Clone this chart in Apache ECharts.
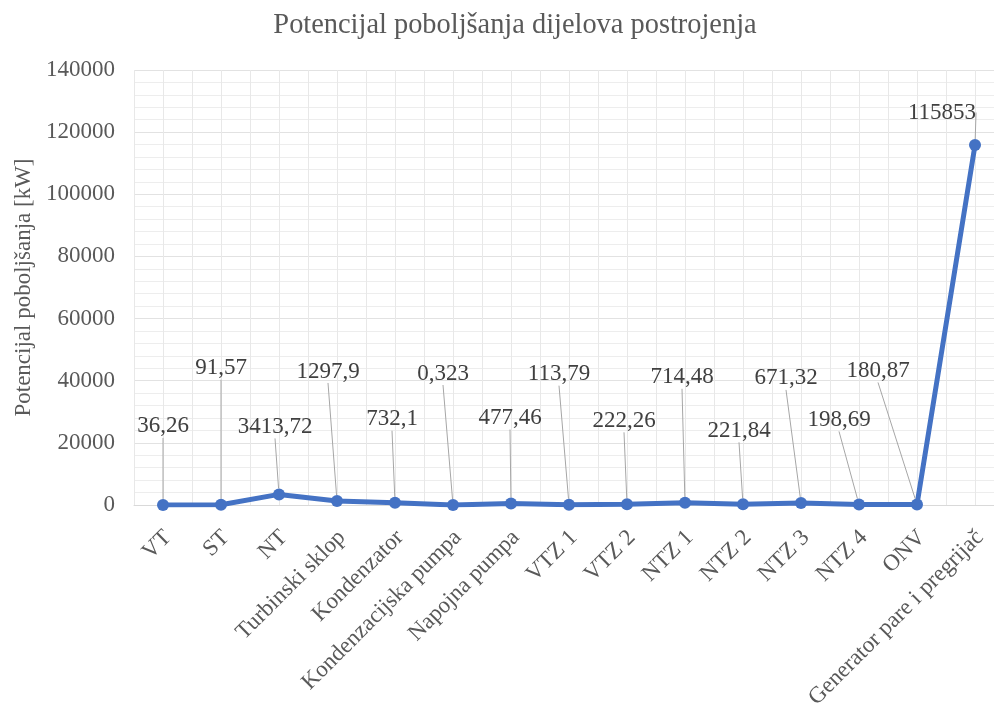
<!DOCTYPE html>
<html>
<head>
<meta charset="utf-8">
<script src="https://cdn.jsdelivr.net/npm/echarts@6/dist/echarts.min.js"></script>
<style>html,body{margin:0;padding:0;background:#fff;overflow:hidden}#c{width:1030px;height:709px}</style>
</head>
<body>
<div id="c"></div>
<script>
const categories = ['VT','ST','NT','Turbinski sklop','Kondenzator','Kondenzacijska pumpa','Napojna pumpa','VTZ 1','VTZ 2','NTZ 1','NTZ 2','NTZ 3','NTZ 4','ONV','Generator pare i pregrijač'];
const values = [36.26, 91.57, 3413.72, 1297.9, 732.1, 0.323, 477.46, 113.79, 222.26, 714.48, 221.84, 671.32, 198.69, 180.87, 115853];
const yTicks = {min: 0, max: 140000, interval: 20000};
// label displacement (dx, dy) relative to default label position
const labelShift = [[0,-56],[0,-114],[-4,-45],[-9,-107],[-3,-61],[-10,-109],[-1,-63],[-10,-108],[-3,-61],[-3,-103],[-4,-51],[-15,-102],[-20,-62],[-39,-111],[-33,-10]];

const font = '"Liberation Serif","Times New Roman",serif';
const chart = echarts.init(document.getElementById('c'));
chart.setOption({
  animation: false,
  title: {text: 'Potencijal poboljšanja dijelova postrojenja', left: 'center', top: 7,
    textStyle: {fontFamily: font, fontSize: 28.4, fontWeight: 'normal', color: '#595959'}},
  grid: {left: 134, top: 70, right: 26, bottom: 204, containLabel: false, outerBoundsMode: 'none'},
  xAxis: [{
    type: 'category', data: categories, boundaryGap: true,
    axisLine: {lineStyle: {color: '#d9d9d9'}},
    axisTick: {show: false},
    splitLine: {show: false},
    axisLabel: {rotate: 45, interval: 0, margin: 34, padding: [0, -7, 0, 0], fontFamily: font, fontSize: 23, color: '#595959'}
  }, {
    type: 'value', min: 0, max: categories.length * 2, interval: 1, show: true,
    axisLine: {show: false}, axisTick: {show: false}, axisLabel: {show: false},
    splitLine: {show: true, lineStyle: {color: '#e8e8e8', width: 1}}
  }],
  yAxis: {
    type: 'value', min: yTicks.min, max: yTicks.max, interval: yTicks.interval,
    name: 'Potencijal poboljšanja [kW]', nameLocation: 'middle', nameGap: 97,
    nameTextStyle: {fontFamily: font, fontSize: 23, color: '#595959'},
    axisLine: {show: false}, axisTick: {show: false},
    axisLabel: {fontFamily: font, fontSize: 23, color: '#595959', margin: 19, formatter: v => String(v)},
    splitLine: {lineStyle: {color: '#e2e2e2'}},
    minorTick: {show: false, splitNumber: 5},
    minorSplitLine: {show: true, lineStyle: {color: '#ededed'}}
  },
  series: [{
    type: 'line', data: values, xAxisIndex: 0,
    symbol: 'circle', symbolSize: 12,
    itemStyle: {color: '#4472C4'},
    lineStyle: {color: '#4472C4', width: 5},
    z: 5,
    label: {show: true, position: 'top', fontFamily: font, fontSize: 23, color: '#404040',
      formatter: p => String(p.value).replace('.', ',')},
    labelLine: {show: true, lineStyle: {color: '#a6a6a6', width: 1}},
    labelLayout: p => ({dx: labelShift[p.dataIndex][0], dy: labelShift[p.dataIndex][1]})
  }]
});
</script>
</body>
</html>
